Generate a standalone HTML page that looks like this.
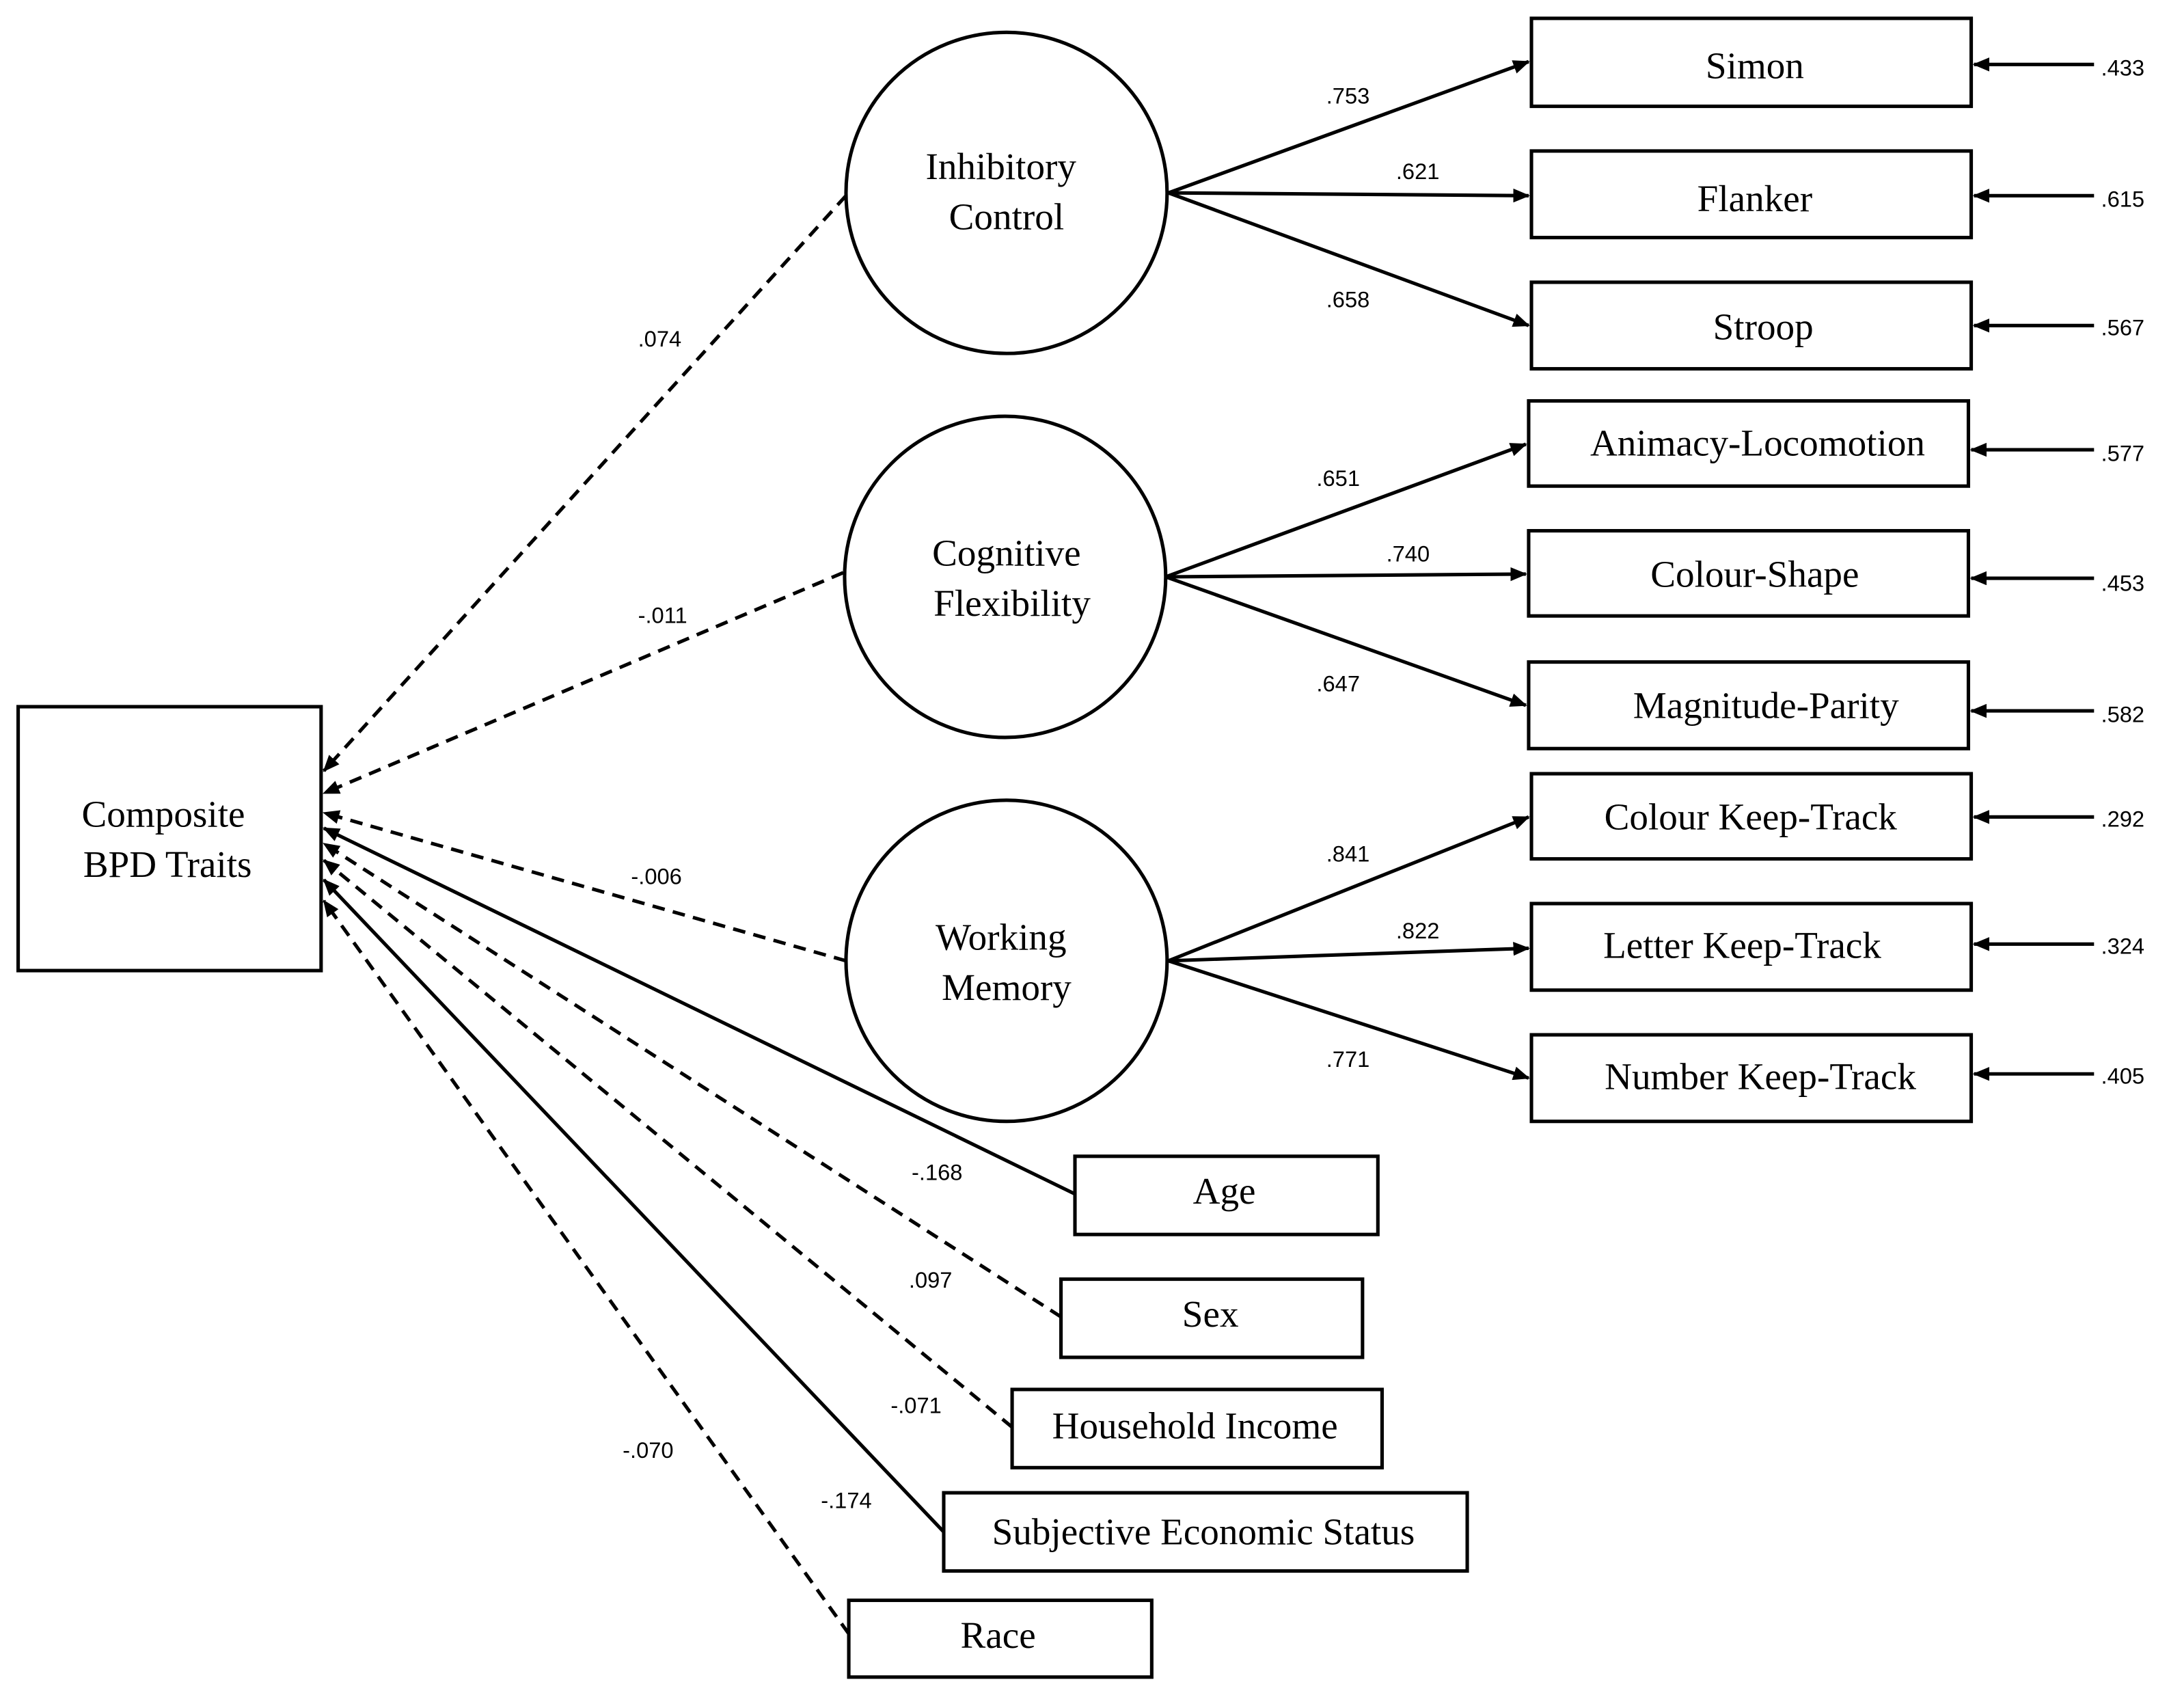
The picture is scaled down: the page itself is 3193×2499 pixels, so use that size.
<!DOCTYPE html>
<html><head><meta charset="utf-8"><style>
html,body{margin:0;padding:0;background:#fff;}
svg{display:block;}
.t{font-family:"Liberation Serif",serif;font-size:27px;fill:#000;}
.n{font-family:"Liberation Sans",sans-serif;font-size:16px;fill:#000;}
</style></head><body>
<svg width="3193" height="2499" viewBox="0 0 1563 1223" xmlns="http://www.w3.org/2000/svg">
<defs><marker id="a" viewBox="0 0 12 10" refX="11" refY="5" markerWidth="12" markerHeight="10" markerUnits="userSpaceOnUse" orient="auto"><path d="M0,0 L12,5 L0,10 z" fill="#000"/></marker></defs>
<g fill="none" stroke="#000" stroke-width="2.5">
<rect x="13" y="506" width="217" height="189"/>
<circle cx="721" cy="138" r="115"/>
<circle cx="720" cy="413" r="115"/>
<circle cx="721" cy="688" r="115"/>
<rect x="1097" y="13" width="315" height="63"/>
<rect x="1097" y="108" width="315" height="62"/>
<rect x="1097" y="202" width="315" height="62"/>
<rect x="1095" y="287" width="315" height="61"/>
<rect x="1095" y="380" width="315" height="61"/>
<rect x="1095" y="474" width="315" height="62"/>
<rect x="1097" y="554" width="315" height="61"/>
<rect x="1097" y="647" width="315" height="62"/>
<rect x="1097" y="741" width="315" height="62"/>
<rect x="770" y="828" width="217" height="56"/>
<rect x="760" y="916" width="216" height="56"/>
<rect x="725" y="995" width="265" height="56"/>
<rect x="676" y="1069" width="375" height="56"/>
<rect x="608" y="1146" width="217" height="55"/>
</g>
<g stroke="#000" stroke-width="2.5" fill="none" marker-end="url(#a)">
<line x1="837" y1="138" x2="1095" y2="44"/>
<line x1="837" y1="138" x2="1095" y2="140"/>
<line x1="837" y1="138" x2="1095" y2="233"/>
<line x1="835" y1="413" x2="1093" y2="318"/>
<line x1="835" y1="413" x2="1093" y2="411"/>
<line x1="835" y1="413" x2="1093" y2="505"/>
<line x1="837" y1="688" x2="1095" y2="585"/>
<line x1="837" y1="688" x2="1095" y2="679"/>
<line x1="837" y1="688" x2="1095" y2="772"/>
<line x1="1500" y1="46" x2="1414" y2="46"/>
<line x1="1500" y1="140" x2="1414" y2="140"/>
<line x1="1500" y1="233" x2="1414" y2="233"/>
<line x1="1500" y1="322" x2="1412" y2="322"/>
<line x1="1500" y1="414" x2="1412" y2="414"/>
<line x1="1500" y1="509" x2="1412" y2="509"/>
<line x1="1500" y1="585" x2="1414" y2="585"/>
<line x1="1500" y1="676" x2="1414" y2="676"/>
<line x1="1500" y1="769" x2="1414" y2="769"/>
<line x1="606" y1="140" x2="232" y2="552" stroke-dasharray="9,6"/>
<line x1="604" y1="410" x2="232" y2="568" stroke-dasharray="9,6"/>
<line x1="606" y1="688" x2="232" y2="582" stroke-dasharray="9,6"/>
<line x1="770" y1="855" x2="232" y2="593"/>
<line x1="760" y1="943" x2="232" y2="604" stroke-dasharray="9,6"/>
<line x1="725" y1="1022" x2="232" y2="616" stroke-dasharray="9,6"/>
<line x1="676" y1="1097" x2="232" y2="630"/>
<line x1="608" y1="1170" x2="232" y2="645" stroke-dasharray="9,6"/>
</g>
<g class="t" text-anchor="middle">
<text x="117" y="592">Composite</text>
<text x="120" y="628">BPD Traits</text>
<text x="717" y="128">Inhibitory</text>
<text x="721" y="164">Control</text>
<text x="721" y="405">Cognitive</text>
<text x="725" y="441">Flexibility</text>
<text x="717" y="680">Working</text>
<text x="721" y="716">Memory</text>
<text x="1257" y="56">Simon</text>
<text x="1257" y="151">Flanker</text>
<text x="1263" y="243">Stroop</text>
<text x="1259" y="326">Animacy-Locomotion</text>
<text x="1257" y="420">Colour-Shape</text>
<text x="1265" y="514">Magnitude-Parity</text>
<text x="1254" y="594">Colour Keep-Track</text>
<text x="1248" y="686">Letter Keep-Track</text>
<text x="1261" y="780">Number Keep-Track</text>
<text x="877" y="862">Age</text>
<text x="867" y="950">Sex</text>
<text x="856" y="1030">Household Income</text>
<text x="862" y="1106">Subjective Economic Status</text>
<text x="715" y="1180">Race</text>
</g>
<g class="n">
<text x="950" y="74">.753</text>
<text x="1000" y="128">.621</text>
<text x="950" y="220">.658</text>
<text x="943" y="348">.651</text>
<text x="993" y="402">.740</text>
<text x="943" y="495">.647</text>
<text x="950" y="617">.841</text>
<text x="1000" y="672">.822</text>
<text x="950" y="764">.771</text>
<text x="1505" y="54">.433</text>
<text x="1505" y="148">.615</text>
<text x="1505" y="240">.567</text>
<text x="1505" y="330">.577</text>
<text x="1505" y="423">.453</text>
<text x="1505" y="517">.582</text>
<text x="1505" y="592">.292</text>
<text x="1505" y="683">.324</text>
<text x="1505" y="776">.405</text>
<text x="457" y="248">.074</text>
<text x="457" y="446">-.011</text>
<text x="452" y="633">-.006</text>
<text x="653" y="845">-.168</text>
<text x="651" y="922">.097</text>
<text x="638" y="1012">-.071</text>
<text x="446" y="1044">-.070</text>
<text x="588" y="1080">-.174</text>
</g>
</svg>
</body></html>
